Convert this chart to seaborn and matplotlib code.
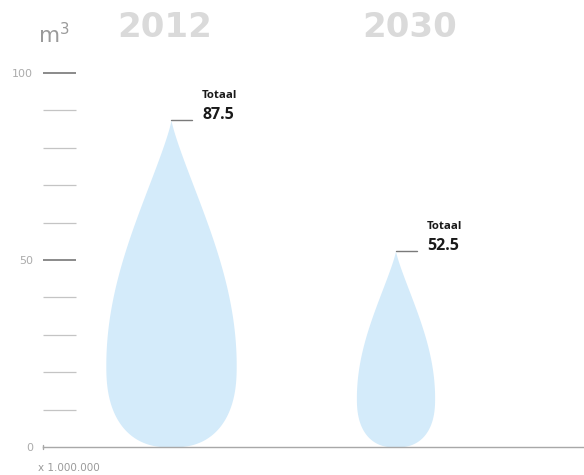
import numpy as np
import matplotlib
matplotlib.use("Agg")
import matplotlib.pyplot as plt
import seaborn as sns

# ---- data ----
categories = ["2012", "2030"]
totals = [87.5, 52.5]
label_word = "Totaal"
unit_label = "m$^3$"
scale_label = "x 1.000.000"
major_ticks = [0, 50, 100]
minor_ticks = [10, 20, 30, 40, 60, 70, 80, 90]

# ---- style ----
sns.set_theme(style="white")
plt.rcParams["font.family"] = ["DejaVu Sans"]
plt.rcParams["mathtext.default"] = "regular"
drop_color = "#d4ebfa"
year_color = "#dadada"
axis_grey = "#a8a8a8"
W, H = 584, 475
px_per_cat = 224.5          # pixel distance between category centres
width_per_value = 0.745 / px_per_cat  # half-width (data units) per unit of value
year_dx = [-0.03, 0.065]

fig = plt.figure(figsize=(W / 100, H / 100), dpi=100)
ax = fig.add_axes([43 / W, 28 / H, 541 / W, 374 / H])
ax.set_xlim((43 - 171) / px_per_cat, (584 - 171) / px_per_cat)
ax.set_ylim(0, 100)


def drop_profile(h, hm=0.25):
    """normalised half-width of a droplet at relative height h (0 bottom, 1 tip)"""
    f = np.zeros_like(h)
    lo = h <= hm
    p = 2.4
    f[lo] = (1 - ((hm - h[lo]) / hm) ** p) ** (1 / p)
    s = (h[~lo] - hm) / (1 - hm)
    f[~lo] = np.clip(np.cos(np.pi * s / 2), 0, None) ** 1.2
    return f


h = np.linspace(0, 1, 600)
for i, (cat, val) in enumerate(zip(categories, totals)):
    y = h * val
    hw = drop_profile(h) * val * width_per_value
    ax.fill_betweenx(y, i - hw, i + hw, color=drop_color, lw=0, zorder=1)
    # leader line + annotation
    ax.plot([i, i + 21 / px_per_cat], [val, val], color="#7a7a7a", lw=1, zorder=3)
    ax.annotate(label_word, xy=(i, val), xytext=(22.5, 17.5), textcoords="offset points",
                ha="left", va="center", fontsize=8.2, fontweight="bold",
                family=["Open Sans", "DejaVu Sans"], color="#1a1a1a")
    ax.annotate(f"{val:.1f}", xy=(i, val), xytext=(22.5, 3.5), textcoords="offset points",
                ha="left", va="center", fontsize=11.5, fontweight="bold",
                family=["Open Sans", "DejaVu Sans"], color="#1a1a1a")
    # year heading
    ax.text(i + year_dx[i], 112.2, cat, ha="center", va="center", fontsize=24.5,
            fontweight="bold", color=year_color)

# axes styling
for sp in ["top", "right", "left"]:
    ax.spines[sp].set_visible(False)
ax.spines["bottom"].set_color(axis_grey)
ax.spines["bottom"].set_linewidth(1)
ax.set_xticks([])
ax.set_yticks(major_ticks)
ax.set_yticks(minor_ticks, minor=True)
ax.set_yticklabels([str(t) for t in major_ticks])
ax.tick_params(axis="y", which="major", direction="in", length=23.5, width=1.4,
               color="#8a8a8a", pad=7, labelsize=8, labelcolor="#ababab", left=True)
ax.tick_params(axis="y", which="minor", direction="in", length=23.5, width=0.9,
               color="#c4c4c4", left=True)
ax.yaxis.get_major_ticks()[0].tick1line.set_visible(False)
ax.plot([0, 0], [-0.6, 0.6], transform=ax.get_yaxis_transform(), color=axis_grey,
        lw=1, clip_on=False)
ax.grid(False)

fig.text(38 / W, 1 - 43 / H, unit_label, ha="left", va="baseline", fontsize=15.5,
         color="#9a9a9a")
fig.text(38 / W, 1 - 468 / H, scale_label, ha="left", va="center", fontsize=7.5,
         color="#9a9a9a")

fig.savefig("out.png", dpi=100)
